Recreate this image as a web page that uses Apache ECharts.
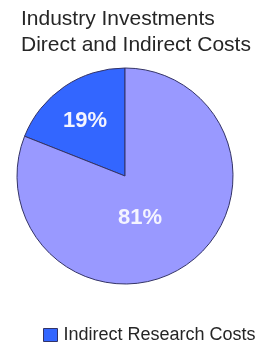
<!DOCTYPE html>
<html>
<head>
<meta charset="utf-8">
<script src="https://cdn.jsdelivr.net/npm/echarts@6/dist/echarts.min.js"></script>
<style>
  html, body { margin: 0; padding: 0; background: #fff; }
  #chart { width: 268px; height: 345px; }
</style>
</head>
<body>
<div id="chart"></div>
<script>
const categories = ['Indirect Research Costs', 'Direct Research Costs']
const values = [19, 81]
const sliceColors = ['#3366ff', '#9999ff']
// nudge of each percentage label from the slice middle
const labelShift = [[-8, -8], [-17, -5]]

const chart = echarts.init(document.getElementById('chart'))

chart.setOption({
  animation: false,
  title: {
    text: 'Industry Investments\nDirect and Indirect Costs',
    left: 16,
    top: 1,
    textStyle: {
      fontFamily: 'Liberation Sans, Arial, sans-serif',
      fontSize: 21,
      fontWeight: 'normal',
      color: '#262626',
      lineHeight: 26,
    },
  },
  legend: {
    data: [categories[0]],
    left: 38,
    top: 321,
    itemWidth: 14,
    itemHeight: 13,
    itemGap: 6,
    icon: 'rect',
    itemStyle: { borderColor: '#333366', borderWidth: 1 },
    textStyle: {
      fontFamily: 'Liberation Sans, Arial, sans-serif',
      fontSize: 18,
      color: '#262626',
      padding: [0, 0, 0, 1],
    },
  },
  series: [
    {
      type: 'pie',
      center: [125, 176],
      radius: 108,
      startAngle: 90,
      clockwise: false,
      data: values.map((value, i) => ({
        name: categories[i],
        value,
        itemStyle: { color: sliceColors[i] },
      })),
      itemStyle: {
        borderColor: '#333366',
        borderWidth: 1,
      },
      label: {
        position: 'inside',
        formatter: '{c}%',
        fontFamily: 'Liberation Sans, Arial, sans-serif',
        fontSize: 22,
        fontWeight: 'bold',
        color: '#f4f4ff',
      },
      labelLayout: (params) => ({
        dx: labelShift[params.dataIndex][0],
        dy: labelShift[params.dataIndex][1],
      }),
      labelLine: { show: false },
      emphasis: { disabled: true },
    },
  ],
})
</script>
</body>
</html>
